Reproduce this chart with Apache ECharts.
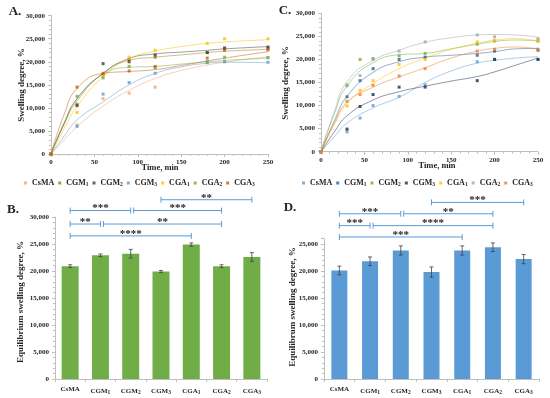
<!DOCTYPE html>
<html><head><meta charset="utf-8">
<script src="https://cdn.jsdelivr.net/npm/echarts@6/dist/echarts.min.js"></script>
<style>html,body{margin:0;padding:0;background:#fff}#c{width:550px;height:398px}</style>
</head><body><div id="c"></div>
<script>
// ---------- categories ----------
const names = ['CsMA','CGM1','CGM2','CGM3','CGA1','CGA2','CGA3'];

// ---------- Panel A : swelling kinetics (points) ----------
const timeA = [0,30,60,90,120,180,200,250];
const aCsMA = [0,6300,12000,13200,14500,19800,20200,20900];
const aCGM1 = [0,10800,17200,20500,21000,22000,22800,22900];
const aCGM2 = [0,10500,19600,20000,21500,22000,23000,23200];
const aCGM3 = [0,6000,13000,15500,17500,19900,20000,19900];
const aCGA1 = [0,9000,16800,21000,22500,24000,25000,25000];
const aCGA2 = [0,12500,16500,19000,18700,20000,21000,20900];
const aCGA3 = [0,14500,17500,18000,19000,20800,22500,22600];
// Panel A trend curves
const trendTimeA = [0,15,30,60,90,120,150,180,200,250];
const taCsMA = [0,3000,5900,10400,13800,16400,18100,19300,19900,21100];
const taCGM1 = [0,6500,11500,17500,20300,21000,21500,22000,22300,22700];
const taCGM2 = [0,6500,12000,17500,20700,21700,22100,22500,22800,23300];
const taCGM3 = [0,3800,7400,11300,15000,17500,18900,19700,19900,19800];
const taCGA1 = [0,5500,10300,16800,20700,22300,23300,24000,24300,24800];
const taCGA2 = [0,6800,12000,17300,18800,19000,19500,20000,20300,20800];
const taCGA3 = [0,8500,14200,17500,17900,18300,19200,20200,20800,22200];

// ---------- Panel C : swelling kinetics (points) ----------
const timeC = [0,30,45,60,90,120,180,200,250];
const cCsMA = [0,4300,7300,10000,12000,14500,19500,20000,20000];
const cCGM1 = [0,11900,15400,18000,20000,20500,20900,21800,22000];
const cCGM2 = [0,14300,20000,20200,20800,21300,23300,24000,24000];
const cCGM3 = [0,4900,9800,12400,14000,14000,15400,20000,20000];
const cCGA1 = [0,9900,13300,15400,18900,20000,23800,24000,24000];
const cCGA2 = [0,14500,16500,20000,21800,23800,25300,24900,24500];
const cCGA3 = [0,10900,12400,14400,16400,18000,21800,22200,22200];
// Panel C trend curves
const trendTimeC = [0,15,30,60,90,120,150,180,200,225,250];
const tcCsMA = [0,3200,6200,9500,11800,15000,17500,19200,19800,20300,20600];
const tcCGM1 = [0,6500,12000,17200,19500,20500,20900,21300,21700,22300,22400];
const tcCGM2 = [0,8000,14300,19300,21000,21300,22300,23300,23900,24200,24000];
const tcCGM3 = [0,4200,7800,11200,13000,14200,15300,16300,17300,18800,20300];
const tcCGA1 = [0,5800,10500,14800,18000,20300,22200,23500,24200,24500,24000];
const tcCGA2 = [0,8500,15200,19800,22000,23700,24700,25300,25400,25300,24800];
const tcCGA3 = [0,6000,10700,14000,16200,18200,20300,21800,22400,22700,22200];

// ---------- Panel B / D : equilibrium swelling ----------
const eqB  = [20900,22900,23200,19900,24900,20900,22600];
const errB = [250,250,800,200,300,250,800];
const eqD  = [20100,21800,23800,19800,23800,24400,22200];
const errD = [800,800,850,950,850,800,850];

// significance brackets (category index from/to, level, stars)
const brFromB  = [3,0,2,0,1,0];
const brToB    = [6,2,5,1,5,4];
const brLevelB = [33200,31200,31200,28700,28700,26500];
const brStarsB = ['**','***','***','**','**','****'];
const brFromD  = [3,0,2,0,1,0];
const brToD    = [6,2,5,1,5,4];
const brLevelD = [32700,30600,30600,28400,28400,26300];
const brStarsD = ['***','***','**','***','****','***'];

// ---------- styles ----------
const FONT = '"Liberation Serif", "DejaVu Serif", serif';
const colorsA = ['#F4A46A','#A07D1C','#3F3F3F','#5B9BD5','#FFC000','#70AD47','#C55A11'];
const colorsC = ['#5B9BD5','#2A5F96','#70AD47','#1E2B4D','#FFC000','#A5A5A5','#ED7D31'];
const axisGray = '#BFBFBF';
const txt = '#262626';

const ptsA = [aCsMA,aCGM1,aCGM2,aCGM3,aCGA1,aCGA2,aCGA3];
const trA  = [taCsMA,taCGM1,taCGM2,taCGM3,taCGA1,taCGA2,taCGA3];
const ptsC = [cCsMA,cCGM1,cCGM2,cCGM3,cCGA1,cCGA2,cCGA3];
const trC  = [tcCsMA,tcCGM1,tcCGM2,tcCGM3,tcCGA1,tcCGA2,tcCGA3];

const fmtNum = v => v === 0 ? '0' : v.toLocaleString('en-US');
const subRich = { s: { fontSize: 5.5, fontFamily: FONT, fontWeight: 'bold', color: txt, padding: [4,0,0,0] } };
const subName = n => n.replace(/^[AC]:/, '').replace(/(\d)$/, '{s|$1}');

const series = [];
function kinetics(prefix, axisIdx, times, pts, trendT, trends, colors) {
  names.forEach((n, k) => {
    series.push({
      type: 'line', name: prefix + 'trend' + n, xAxisIndex: axisIdx, yAxisIndex: axisIdx,
      data: trendT.map((t, i) => [t, trends[k][i]]), smooth: 0.5, showSymbol: false, silent: true,
      lineStyle: { color: colors[k], width: 1, opacity: 0.5 }, z: 2
    });
  });
  names.forEach((n, k) => {
    series.push({
      type: 'scatter', name: prefix + n, xAxisIndex: axisIdx, yAxisIndex: axisIdx,
      data: times.map((t, i) => [t, pts[k][i]]), symbol: 'rect', symbolSize: 3,
      itemStyle: { color: colors[k] }, z: 3
    });
  });
}
kinetics('A:', 0, timeA, ptsA, trendTimeA, trA, colorsA);
kinetics('C:', 1, timeC, ptsC, trendTimeC, trC, colorsC);

function barPanel(idx, vals, errs, color, width) {
  series.push({ type: 'bar', xAxisIndex: idx, yAxisIndex: idx, data: vals, barWidth: width,
    itemStyle: { color: color }, z: 2 });
  series.push({ type: 'custom', xAxisIndex: idx, yAxisIndex: idx, z: 4, silent: true,
    data: vals.map((v, i) => [i, v, errs[i]]),
    renderItem: (params, api) => {
      const i = api.value(0), v = api.value(1), e = api.value(2);
      const top = api.coord([i, v + e]), bot = api.coord([i, v - e]);
      const x = top[0], st = { stroke: '#404040', lineWidth: 0.8 };
      return { type: 'group', children: [
        { type: 'line', shape: { x1: x, y1: top[1], x2: x, y2: bot[1] }, style: st },
        { type: 'line', shape: { x1: x - 2, y1: top[1], x2: x + 2, y2: top[1] }, style: st },
        { type: 'line', shape: { x1: x - 2, y1: bot[1], x2: x + 2, y2: bot[1] }, style: st }
      ]};
    }
  });
}
barPanel(2, eqB, errB, '#70AD47', 17);
barPanel(3, eqD, errD, '#5B9BD5', 16);

function brackets(idx, from, to, level, stars) {
  series.push({ type: 'custom', xAxisIndex: idx, yAxisIndex: idx, clip: false, silent: true, z: 5,
    data: from.map((f, i) => [f, level[i], to[i], i]),
    encode: { x: 0, y: 1 },
    renderItem: (params, api) => {
      const i = params.dataIndex;
      const p1 = api.coord([from[i], level[i]]), p2 = api.coord([to[i], level[i]]);
      let x1 = p1[0], x2 = p2[0];
      for (let j = 0; j < from.length; j++) if (j !== i && level[j] === level[i] && to[j] === from[i]) x1 += 3;
      const y = p1[1], st = { stroke: '#5B9BD5', lineWidth: 1 };
      return { type: 'group', children: [
        { type: 'line', shape: { x1: x1, y1: y, x2: x2, y2: y }, style: st },
        { type: 'line', shape: { x1: x1, y1: y - 3, x2: x1, y2: y + 3 }, style: st },
        { type: 'line', shape: { x1: x2, y1: y - 3, x2: x2, y2: y + 3 }, style: st },
        { type: 'text', x: (x1 + x2) / 2, y: y - 2, style: { text: stars[i], textAlign: 'center',
          textVerticalAlign: 'middle', font: 'bold 11px ' + FONT, fill: txt } }
      ]};
    }
  });
}
brackets(2, brFromB, brToB, brLevelB, brStarsB);
brackets(3, brFromD, brToD, brLevelD, brStarsD);

const axLine = { lineStyle: { color: axisGray, width: 1 } };
const lbl = { color: txt, fontFamily: FONT, fontWeight: 'bold', fontSize: 7 };
function valX(grid) {
  return { type: 'value', gridIndex: grid, min: 0, max: 250, interval: 50,
    axisLine: axLine, axisTick: { show: true, length: 3, lineStyle: { color: axisGray } },
    minorTick: { show: true, splitNumber: 5, length: 2, lineStyle: { color: axisGray } },
    splitLine: { show: false }, axisLabel: Object.assign({ margin: 5 }, lbl) };
}
function valY(grid, max) {
  return { type: 'value', gridIndex: grid, min: 0, max: max, interval: 5000,
    axisLine: Object.assign({ show: true }, axLine), axisTick: { show: true, length: 3, lineStyle: { color: axisGray } },
    minorTick: { show: true, splitNumber: 5, length: 2, lineStyle: { color: axisGray } },
    splitLine: { show: false },
    axisLabel: Object.assign({ margin: 6, formatter: v => v > 25000 && max === 26000 ? '' : fmtNum(v) }, lbl) };
}
function catX(grid) {
  return { type: 'category', gridIndex: grid, data: names,
    axisLine: axLine, axisTick: { show: true, length: 3, lineStyle: { color: axisGray } },
    axisLabel: Object.assign({ margin: 7, interval: 0, fontSize: 7.5, formatter: subName, rich: subRich }, lbl) };
}

const legendBase = {
  itemWidth: 3, itemHeight: 3, icon: 'rect', itemGap: 4, padding: 0, width: 280,
  formatter: subName,
  textStyle: { color: txt, fontFamily: FONT, fontWeight: 'bold', fontSize: 8, rich: subRich }
};

const T = (text, x, y, size, rot) => ({ type: 'text', x: x, y: y, rotation: rot || 0,
  style: { text: text, font: 'bold ' + size + 'px ' + FONT, fill: txt, textAlign: 'center', textVerticalAlign: 'middle' } });

const option = {
  animation: false,
  backgroundColor: '#fff',
  grid: [
    { left: 51, top: 15.7, width: 217, height: 138.3 },
    { left: 321, top: 13.3, width: 217, height: 138.4 },
    { left: 55, top: 217, width: 212, height: 162 },
    { left: 324, top: 238.6, width: 215, height: 140.4 }
  ],
  xAxis: [valX(0), valX(1), catX(2), catX(3)],
  yAxis: [valY(0, 30000), valY(1, 30000), valY(2, 30000), valY(3, 26000)],
  legend: [
    Object.assign({ left: 24, top: 179, data: names.map(n => 'A:' + n) }, legendBase),
    Object.assign({ left: 302, top: 179, data: names.map(n => 'C:' + n) }, legendBase)
  ],
  graphic: [
    T('A.', 15, 12, 13), T('C.', 285, 11, 13), T('B.', 13, 210, 13), T('D.', 290, 208, 13),
    T('Swelling degree, %', 22, 85, 9, Math.PI / 2),
    T('Swelling degree, %', 286, 83, 9, Math.PI / 2),
    T('Equilibrium swelling degree, %', 21, 302, 9, Math.PI / 2),
    T('Equilibrum swelling degree, %', 293, 307, 9, Math.PI / 2),
    T('Time, min', 160, 168, 8.5),
    T('Time, min', 437, 166, 8.5)
  ],
  series: series
};
echarts.init(document.getElementById('c')).setOption(option);
</script></body></html>
